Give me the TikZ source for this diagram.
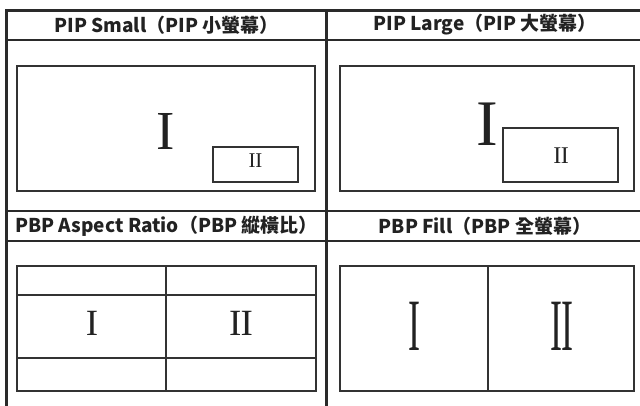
\documentclass[tikz,border=0pt]{standalone}
\usepackage{fontspec}
\newfontfamily\cjk{Noto Sans CJK TC}
\newfontfamily\numfont{Liberation Serif}
\definecolor{ink}{HTML}{222222}
\definecolor{tabline}{HTML}{2A2A2A}
\definecolor{boxline}{HTML}{333333}
\begin{document}
\begin{tikzpicture}[x=1pt,y=-1pt,
  tab/.style={line width=2.8pt,draw=tabline},
  frame/.style={line width=1.3pt,draw=boxline},
  head/.style={inner sep=0pt,text=ink,font=\cjk\bfseries\fontsize{19}{22}\selectfont},
  num/.style={inner sep=0pt,text=ink,font=\numfont\fontsize{#1}{#1}\selectfont}]
\useasboundingbox (0,0) rectangle (640,406);
% table grid
\draw[tab] (6.5,406) -- (6.5,10.5) -- (640,10.5);
\draw[tab] (6.5,40) -- (640,40);
\draw[tab] (6.5,211) -- (640,211);
\draw[tab] (6.5,241) -- (640,241);
\draw[tab] (326.5,10.5) -- (326.5,406);
% headers
\node[head] (h1) at (166.5,25) {PIP Small（PIP 小螢幕）};
\node[head] (h2) at (485,25) {PIP Large（PIP 大螢幕）};
\node[head] (h3) at (166.5,226) {PBP Aspect Ratio（PBP 縱橫比）};
\node[head] (h4) at (485,226) {PBP Fill（PBP 全螢幕）};
% PIP small
\draw[frame] (17,66) rectangle (315,191);
\draw[frame] (213,147) rectangle (298,182);
\node[num=55] (a1) at (166,131) {I};
\node[num=21] (a2) at (255.5,161) {I\kern-0.02em I};
% PIP large
\draw[frame] (340,66) rectangle (634,191);
\draw[frame] (503,128) rectangle (618,182);
\node[num=65] (b1) at (487,124) {I};
\node[num=24] (b2) at (561,156) {I\kern-0.02em I};
% PBP aspect ratio
\draw[frame] (17,266) rectangle (316,391);
\draw[frame] (17,295) -- (316,295);
\draw[frame] (17,358) -- (316,358);
\draw[frame] (166,266) -- (166,391);
\node[num=37] (c1) at (92,323) {I};
\node[num=37] (c2) at (241,323) {I\kern-0.02em I};
% PBP fill
\draw[frame] (340,266) rectangle (634,391);
\draw[frame] (488,266) -- (488,391);
\node[num=36] (d1) at (414,326) {\scalebox{1}[2.05]{I}};
\node[num=36] (d2) at (562,326) {\scalebox{1}[2.05]{I\kern-0.02em I}};
\end{tikzpicture}
\end{document}
